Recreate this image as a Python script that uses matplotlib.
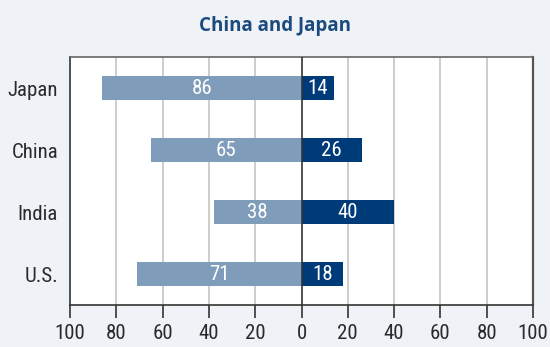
import matplotlib
matplotlib.use("Agg")
import matplotlib.pyplot as plt
from matplotlib import font_manager

categories = ["Japan", "China", "India", "U.S."]
left_values = [86, 65, 38, 71]
right_values = [14, 26, 40, 18]
tick_values = [-100, -80, -60, -40, -20, 0, 20, 40, 60, 80, 100]
tick_labels = ["100", "80", "60", "40", "20", "0", "20", "40", "60", "80", "100"]
title = "China and Japan"

names = sorted({f.name for f in font_manager.fontManager.ttflist})
pick = None
for cand in ("Roboto Condensed", "Liberation Sans Narrow", "Open Sans Condensed",
             "Noto Sans Condensed", "Roboto", "Liberation Sans"):
    if cand in names:
        pick = cand
        break
narrow = pick or "DejaVu Sans"

BG = "#eff3f7"
LIGHT = "#7f9dba"
DARK = "#003b79"
TITLE_C = "#1b4a7e"
TEXT_C = "#2a2a2a"

fig = plt.figure(figsize=(5.5, 3.47), dpi=100, facecolor=BG)
ax = fig.add_axes([70 / 550, 1 - 305 / 347, 463 / 550, 248 / 347])
ax.set_facecolor("white")

y = list(range(len(categories)))
h = 0.4
ax.barh(y, [-v for v in left_values], height=h, color=LIGHT, zorder=3)
ax.barh(y, right_values, height=h, color=DARK, zorder=3)

fs = 15
for yi, lv, rv in zip(y, left_values, right_values):
    ax.text(-lv / 2, yi, str(lv), ha="center", va="center", color="white",
            fontsize=fs, family=narrow, zorder=4)
    ax.text(rv / 2, yi, str(rv), ha="center", va="center", color="white",
            fontsize=fs, family=narrow, zorder=4)

ax.set_xlim(-100, 100)
ax.set_ylim(3.5, -0.5)
for t in tick_values:
    if t not in (-100, 0, 100):
        ax.axvline(t, color="#cdcdcd", lw=1.4, zorder=1)
ax.axvline(0, color="#333333", lw=1.2, zorder=5)

ax.set_xticks(tick_values)
ax.set_xticklabels(tick_labels, family=narrow, fontsize=fs, color=TEXT_C)
ax.set_yticks(y)
ax.set_yticklabels(categories, family=narrow, fontsize=fs, color=TEXT_C)
ax.tick_params(axis="y", length=0, pad=8.5)
ax.tick_params(axis="x", direction="out", length=9.4, width=1.2, color="#333333", pad=4)

for side in ("left", "bottom"):
    ax.spines[side].set_color("#333333")
    ax.spines[side].set_linewidth(1.2)
ax.spines["top"].set_color("#666666")
ax.spines["top"].set_linewidth(1.2)
ax.spines["right"].set_color("#555555")
ax.spines["right"].set_linewidth(1.6)

fig.text(0.5, 1 - 31 / 347, title, ha="center", va="baseline", color=TITLE_C,
         fontsize=13.5, fontweight="bold", family=["Open Sans", "DejaVu Sans"])

fig.savefig("out.png", dpi=100, facecolor=BG)
